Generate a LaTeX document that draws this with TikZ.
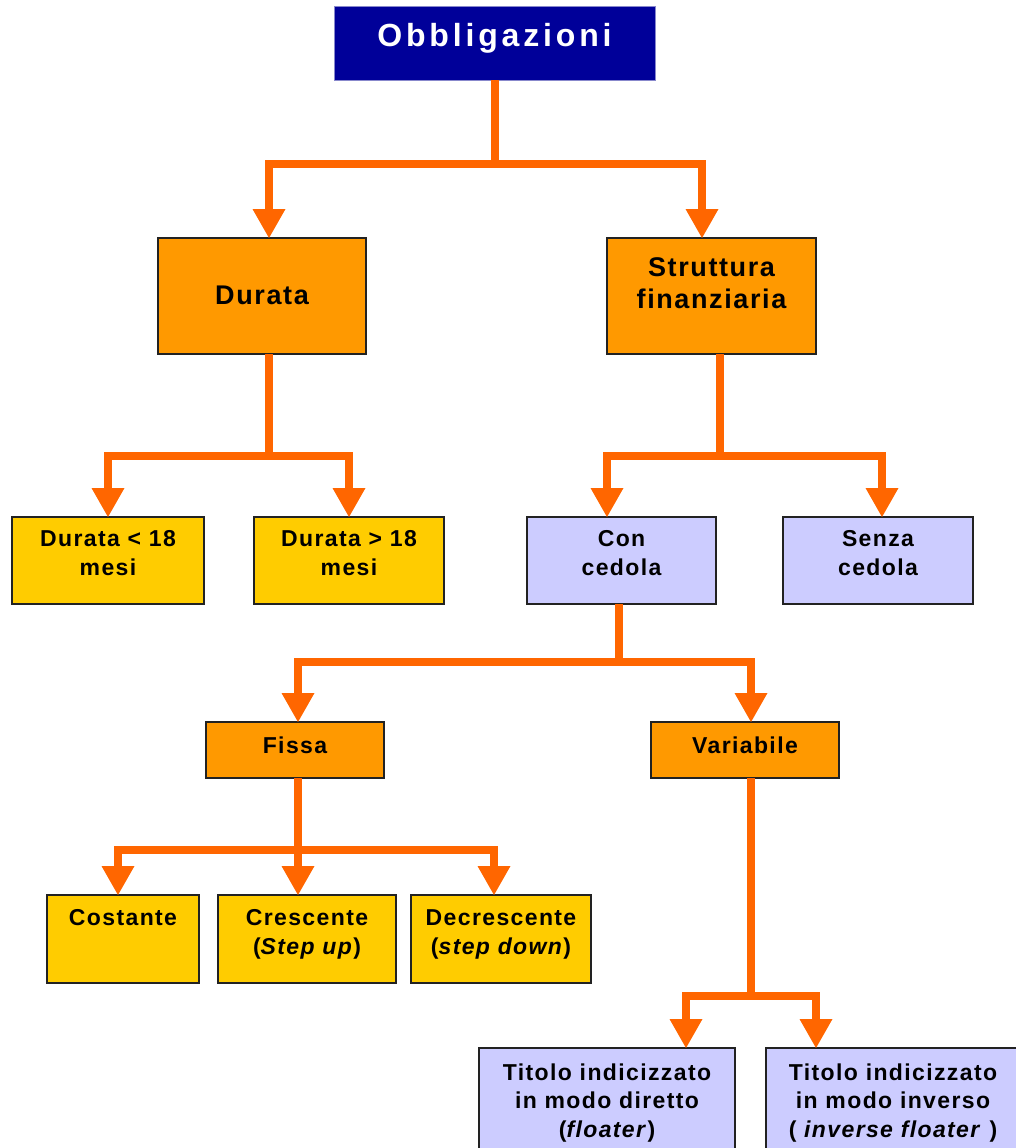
\documentclass[tikz,border=0pt]{standalone}
\usepackage{fontspec}
\setmainfont{Liberation Sans}
\usetikzlibrary{arrows.meta}
\definecolor{navy}{HTML}{000099}
\definecolor{navyedge}{HTML}{8888CC}
\definecolor{boxor}{HTML}{FF9900}
\definecolor{boxye}{HTML}{FFCC00}
\definecolor{boxlv}{HTML}{CCCCFF}
\definecolor{conn}{HTML}{FF6600}
\definecolor{edge}{HTML}{222222}
% #1 width, #2 height, #3 first baseline offset, #4 text
\newcommand{\bxt}[4]{\parbox[t][#2pt][t]{#1pt}{\centering\rule{0pt}{#3pt}#4}}
\tikzset{
  x=1pt, y=-1pt,
  box/.style={draw=edge, line width=1.5pt, inner sep=0pt, outer sep=0pt, anchor=north west},
  bigfont/.style={font=\bfseries\fontsize{27}{32}\selectfont\addfontfeatures{LetterSpace=6}},
  smallfont/.style={font=\bfseries\fontsize{23}{29.5}\selectfont\addfontfeatures{LetterSpace=6}},
  titlefont/.style={font=\bfseries\fontsize{32}{36}\selectfont\addfontfeatures{LetterSpace=12}},
  stem/.style={draw=conn, line width=8pt},
  arr/.style={draw=conn, line width=8pt, -{Triangle[width=33pt,length=29pt,line width=0pt]}},
}
\begin{document}
\begin{tikzpicture}
\fill[white] (0,0) rectangle (1016,1148);
\useasboundingbox (0,0) rectangle (1016,1148);
\clip (0,0) rectangle (1016,1148);

% boxes
\node[box, fill=navy, draw=navyedge, line width=1pt, text=white, titlefont] (obb) at (334,7) {\bxt{321}{73}{40}{Obbligazioni}};
\node[box, fill=boxor, bigfont] (dur) at (158,238) {\bxt{208}{116}{66}{Durata}};
\node[box, fill=boxor, bigfont] (str) at (607,238) {\bxt{209}{116}{38}{Struttura\\finanziaria}};
\node[box, fill=boxye, smallfont] (d1) at (12,517) {\bxt{192}{87}{29}{Durata < 18\\mesi}};
\node[box, fill=boxye, smallfont] (d2) at (254,517) {\bxt{190}{87}{29}{Durata > 18\\mesi}};
\node[box, fill=boxlv, smallfont] (con) at (527,517) {\bxt{189}{87}{29}{Con\\cedola}};
\node[box, fill=boxlv, smallfont] (sen) at (783,517) {\bxt{190}{87}{29}{Senza\\cedola}};
\node[box, fill=boxor, smallfont] (fis) at (206,722) {\bxt{178}{56}{31}{Fissa}};
\node[box, fill=boxor, smallfont] (var) at (651,722) {\bxt{188}{56}{31}{Variabile}};
\node[box, fill=boxye, smallfont] (cos) at (47,895) {\bxt{152}{88}{30}{Costante}};
\node[box, fill=boxye, smallfont] (cre) at (218,895) {\bxt{178}{88}{30}{Crescente\\(\textit{Step up})}};
\node[box, fill=boxye, smallfont] (dec) at (411,895) {\bxt{180}{88}{30}{Decrescente\\(\textit{step down})}};
\node[box, fill=boxlv, font=\bfseries\fontsize{23}{28.5}\selectfont\addfontfeatures{LetterSpace=6}] (t1) at (479,1048) {\bxt{256}{120}{32}{Titolo indicizzato\\in modo diretto\\(\textit{floater})}};
\node[box, fill=boxlv, font=\bfseries\fontsize{23}{28.5}\selectfont\addfontfeatures{LetterSpace=6}] (t2) at (766,1048) {\bxt{254}{120}{32}{Titolo indicizzato\\in modo inverso\\( \textit{inverse floater} )}};

% junctions
\coordinate (j1) at (494.5,164);
\coordinate (j2) at (269,456);
\coordinate (j3) at (720,456);
\coordinate (j4) at (619,662);
\coordinate (j5) at (298,850);
\coordinate (j6) at (751,996);

% connectors
\draw[arr] (obb.south) -- (j1) -| ([xshift=7pt]dur.north);
\draw[arr] (j1) -| ([xshift=-9.5pt]str.north);

\draw[arr] ([xshift=7pt]dur.south) -- (j2) -| (d1.north);
\draw[arr] (j2) -| (d2.north);

\draw[arr] ([xshift=8.5pt]str.south) -- (j3) -| ([xshift=-14.5pt]con.north);
\draw[arr] (j3) -| ([xshift=4pt]sen.north);

\draw[arr] ([xshift=-2.5pt]con.south) -- (j4) -| ([xshift=3pt]fis.north);
\draw[arr] (j4) -| ([xshift=6pt]var.north);

\draw[arr] ([xshift=3pt]fis.south) -- (j5) -| ([xshift=-5pt]cos.north);
\draw[arr] (j5) -- ([xshift=-9pt]cre.north);
\draw[arr] (j5) -| ([xshift=-7pt]dec.north);

\draw[arr] ([xshift=6pt]var.south) -- (j6) -| ([xshift=79pt]t1.north);
\draw[arr] (j6) -| ([xshift=-77pt]t2.north);
\end{tikzpicture}
\end{document}
